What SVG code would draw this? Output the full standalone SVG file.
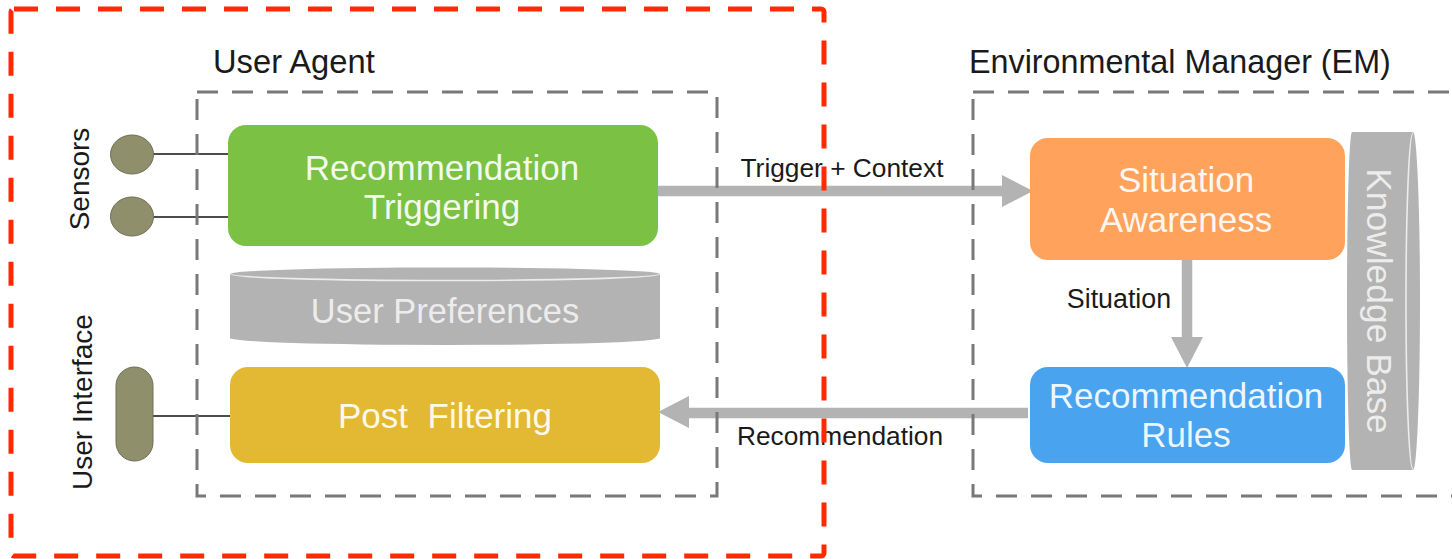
<svg xmlns="http://www.w3.org/2000/svg" width="1452" height="559" viewBox="0 0 1452 559">
<style>
text{font-family:"Liberation Sans",Arial,Helvetica,sans-serif}
.title{font-size:32.7px;fill:#1a1a1a}
.node{font-size:35px;fill:#ffffff;fill-opacity:0.92;text-anchor:middle}
.side{font-size:28px;fill:#1a1a1a;text-anchor:middle}
.lbl{font-size:26.3px;fill:#1a1a1a;text-anchor:middle}
.shaft{stroke:#b3b3b3;stroke-width:10.5;fill:none}
.head{fill:#b3b3b3}
.wire{stroke:#111;stroke-width:1.6;fill:none}
.box{fill:none;stroke:#787878;stroke-width:3;stroke-dasharray:21 14}
.cyl{fill:#b3b3b3}
.rim{fill:none;stroke:#ececec;stroke-width:1.6}
.dev{fill:#8f8f6c;stroke:#6e6e58;stroke-width:1}
</style>

<g id="connectors">
  <line class="wire" x1="153" y1="154" x2="228" y2="154"/>
  <line class="wire" x1="153" y1="217" x2="228" y2="217"/>
  <line class="wire" x1="153" y1="416" x2="230" y2="416"/>
  <line class="shaft" x1="658" y1="191" x2="1004" y2="191"/>
  <polygon class="head" points="1002,175 1033,191 1002,207"/>
  <text class="lbl" x="842" y="177">Trigger + Context</text>
  <line class="shaft" x1="1187" y1="260" x2="1187" y2="339"/>
  <polygon class="head" points="1171,337 1203,337 1187,368"/>
  <text class="lbl" x="1119" y="308" style="font-size:26.8px">Situation</text>
  <line class="shaft" x1="1028" y1="413" x2="687" y2="413"/>
  <polygon class="head" points="689,396 658,412 689,428"/>
  <text class="lbl" x="840" y="445">Recommendation</text>
</g>

<g id="sensor1"><ellipse class="dev" cx="132" cy="154.5" rx="21.5" ry="19.5"/></g>
<g id="sensor2"><ellipse class="dev" cx="132" cy="216.5" rx="21.5" ry="19.5"/></g>
<g id="sensors-label"><text class="side" transform="translate(89,179) rotate(-90)">Sensors</text></g>
<g id="user-interface"><rect class="dev" x="116" y="367" width="37" height="94" rx="18.5" stroke="none"/></g>
<g id="user-interface-label"><text class="side" transform="translate(92,402) rotate(-90)">User Interface</text></g>

<g id="recommendation-triggering">
  <rect x="228" y="125" width="430" height="121" rx="18" fill="#7bc143"/>
  <text class="node" x="442" y="180">Recommendation</text>
  <text class="node" x="442" y="219">Triggering</text>
</g>

<g id="user-preferences">
  <path class="cyl" d="M230,274 A215,6.5 0 0 1 660,274 L660,338 A215,7 0 0 1 230,338 Z"/>
  <path class="rim" d="M231,274 A214,6.5 0 0 0 659,274"/>
  <text class="node" x="445" y="323" style="fill:#f2f2f2;font-size:34.5px">User Preferences</text>
</g>

<g id="post-filtering">
  <rect x="230" y="367" width="430" height="96" rx="18" fill="#e3b934"/>
  <text class="node" x="445" y="428" style="white-space:pre">Post  Filtering</text>
</g>

<g id="situation-awareness">
  <rect x="1030" y="138" width="315" height="122" rx="18" fill="#ffa25b"/>
  <text class="node" x="1186" y="192">Situation</text>
  <text class="node" x="1186" y="232">Awareness</text>
</g>

<g id="recommendation-rules">
  <rect x="1030" y="367" width="315" height="96" rx="18" fill="#4aa3ee"/>
  <text class="node" x="1186" y="408">Recommendation</text>
  <text class="node" x="1186" y="447">Rules</text>
</g>

<g id="knowledge-base">
  <path class="cyl" d="M1352,132 L1413,132 A7,169 0 0 1 1413,470 L1352,470 A5,169 0 0 1 1352,132 Z"/>
  <path class="rim" d="M1413,133 A7,168 0 0 0 1413,469"/>
  <text class="node" transform="translate(1367,301) rotate(90)" style="font-size:35.4px;fill:#f2f2f2">Knowledge Base</text>
</g>

<g id="user-agent">
  <rect class="box" x="197" y="92" width="520" height="404"/>
  <text class="title" x="213" y="73">User Agent</text>
</g>

<g id="environmental-manager">
  <rect class="box" x="973" y="92" width="520" height="404"/>
  <text class="title" x="969" y="73" style="font-size:32.3px">Environmental Manager (EM)</text>
</g>

<g id="highlight">
  <rect x="11" y="9" width="813" height="547" rx="3" fill="none" stroke="#ff2a00" stroke-width="5" stroke-dasharray="24 18"/>
</g>
</svg>
